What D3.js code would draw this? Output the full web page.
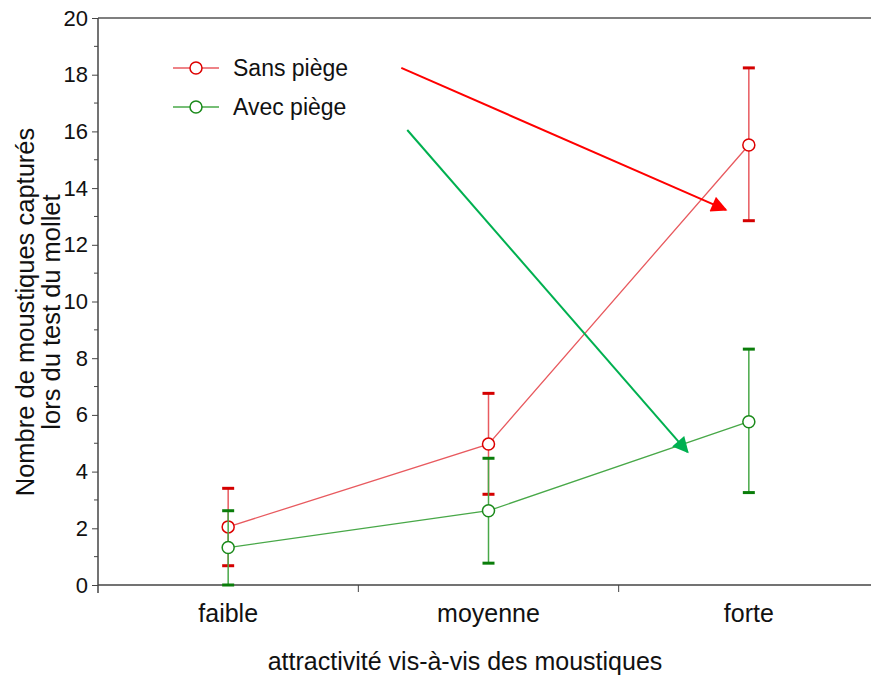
<!DOCTYPE html>
<html>
<head>
<meta charset="utf-8">
<script src="https://cdn.jsdelivr.net/npm/d3@7"></script>
<style>
  body { margin: 0; background: #fff; }
  svg { display: block; font-family: "Liberation Sans", Arial, sans-serif; }
</style>
</head>
<body>
<svg width="871" height="675"></svg>
<script>
// data
const categories = ['faible', 'moyenne', 'forte'];
const sansMean = [2.05, 4.97, 15.52];
const sansLow  = [0.68, 3.2, 12.85];
const sansHigh = [3.41, 6.76, 18.24];
const avecMean = [1.32, 2.62, 5.76];
const avecLow  = [0.0, 0.77, 3.26];
const avecHigh = [2.62, 4.47, 8.32];
const yTicks = [0, 2, 4, 6, 8, 10, 12, 14, 16, 18, 20];
const legendLabels = ['Sans piège', 'Avec piège'];

// arrows in data units (category index, value)
const redArrow = [[0.665, 18.24], [1.912, 13.23]];
const greenArrow = [[0.688, 16.05], [1.765, 4.69]];

const svg = d3.select('svg');
const plotLeft = 98, plotRight = 879, plotTop = 18, plotBottom = 585;

const x = d3.scaleBand().domain(categories).range([plotLeft, plotRight]);
const xi = d3.scaleLinear().domain([0, 1]).range([x('faible') + x.bandwidth() / 2, x('moyenne') + x.bandwidth() / 2]);
const y = d3.scaleLinear().domain([0, 20]).range([plotBottom, plotTop]);

const series = [
  { mean: sansMean, low: sansLow, high: sansHigh, line: '#e85a5f', cap: '#d40000', mark: '#dd0000' },
  { mean: avecMean, low: avecLow, high: avecHigh, line: '#48a848', cap: '#0a7d0a', mark: '#1a8a1a' }
];

//  Axes
svg.append('line')
  .attr('x1', plotLeft).attr('x2', 871).attr('y1', plotTop).attr('y2', plotTop)
  .attr('stroke', '#555').attr('stroke-width', 1.5);

const yAxis = svg.append('g')
  .attr('transform', `translate(${plotLeft},0)`)
  .call(d3.axisLeft(y).tickValues(yTicks).tickSize(6).tickFormat(d3.format('d')));
yAxis.select('.domain').remove();
yAxis.selectAll('line').attr('stroke', '#444');
yAxis.selectAll('text').attr('font-size', 22).attr('fill', '#111').attr('x', -10);

// minor ticks
svg.append('g').selectAll('line')
  .data(d3.range(1, 20, 2))
  .join('line')
  .attr('x1', plotLeft - 4).attr('x2', plotLeft)
  .attr('y1', d => y(d)).attr('y2', d => y(d))
  .attr('stroke', '#444');

svg.append('line')
  .attr('x1', plotLeft).attr('x2', plotLeft).attr('y1', plotTop).attr('y2', plotBottom + 8)
  .attr('stroke', '#444').attr('stroke-width', 1.5);

svg.append('line')
  .attr('x1', plotLeft).attr('x2', 871).attr('y1', plotBottom).attr('y2', plotBottom)
  .attr('stroke', '#444').attr('stroke-width', 1.5);

// category boundary ticks
svg.append('g').selectAll('line')
  .data(categories.slice(1))
  .join('line')
  .attr('x1', d => x(d)).attr('x2', d => x(d))
  .attr('y1', plotBottom).attr('y2', plotBottom + 7)
  .attr('stroke', '#444');

svg.append('g').selectAll('text')
  .data(categories)
  .join('text')
  .attr('x', d => x(d) + x.bandwidth() / 2)
  .attr('y', plotBottom + 37)
  .attr('text-anchor', 'middle')
  .attr('font-size', 25)
  .attr('fill', '#111')
  .text(d => d);

svg.append('text')
  .attr('x', 465).attr('y', 670)
  .attr('text-anchor', 'middle')
  .attr('font-size', 25)
  .attr('fill', '#111')
  .text('attractivité vis-à-vis des moustiques');

const yTitle = svg.append('text')
  .attr('transform', 'translate(0,312) rotate(-90)')
  .attr('text-anchor', 'middle')
  .attr('font-size', 25.5)
  .attr('fill', '#111');
yTitle.append('tspan').attr('x', 0).attr('y', 34).text('Nombre de moustiques capturés');
yTitle.append('tspan').attr('x', 0).attr('y', 60).text('lors du test du mollet');

//  Series
const cx = i => x(categories[i]) + x.bandwidth() / 2;
const lineGen = d3.line().x((d, i) => cx(i)).y(d => y(d));

series.forEach(s => {
  const g = svg.append('g');

  g.append('g').selectAll('line')
    .data(s.mean)
    .join('line')
    .attr('x1', (d, i) => cx(i)).attr('x2', (d, i) => cx(i))
    .attr('y1', (d, i) => y(s.low[i])).attr('y2', (d, i) => y(s.high[i]))
    .attr('stroke', s.line).attr('stroke-width', 1.5);

  [s.low, s.high].forEach(arr => {
    g.append('g').selectAll('line')
      .data(arr)
      .join('line')
      .attr('x1', (d, i) => cx(i) - 6).attr('x2', (d, i) => cx(i) + 6)
      .attr('y1', d => y(d)).attr('y2', d => y(d))
      .attr('stroke', s.cap).attr('stroke-width', 3);
  });

  g.append('path')
    .attr('d', lineGen(s.mean))
    .attr('fill', 'none')
    .attr('stroke', s.line).attr('stroke-width', 1.3);

  g.append('g').selectAll('circle')
    .data(s.mean)
    .join('circle')
    .attr('cx', (d, i) => cx(i)).attr('cy', d => y(d))
    .attr('r', 6)
    .attr('fill', '#fff')
    .attr('stroke', s.mark).attr('stroke-width', 1.5);
});

//  Legend
const legend = svg.append('g');
legendLabels.forEach((label, i) => {
  const s = series[i];
  const ly = 68 + i * 39;
  legend.append('line')
    .attr('x1', 173).attr('x2', 219).attr('y1', ly).attr('y2', ly)
    .attr('stroke', s.line).attr('stroke-width', 1.3);
  legend.append('circle')
    .attr('cx', 196).attr('cy', ly).attr('r', 6)
    .attr('fill', '#fff').attr('stroke', s.mark).attr('stroke-width', 1.5);
  legend.append('text')
    .attr('x', 233).attr('y', ly + 8)
    .attr('font-size', 23).attr('fill', '#111')
    .text(label);
});

//  Arrows
const defs = svg.append('defs');
[['red', '#ff0000'], ['green', '#00b050']].forEach(([id, col]) => {
  defs.append('marker')
    .attr('id', 'arrow-' + id)
    .attr('viewBox', '0 0 10 10')
    .attr('refX', 9).attr('refY', 5)
    .attr('markerWidth', 9).attr('markerHeight', 8)
    .attr('markerUnits', 'strokeWidth')
    .attr('orient', 'auto')
    .append('path')
    .attr('d', 'M0,0 L10,5 L0,10 Z')
    .attr('fill', col);
});

[[redArrow, 'red', '#ff0000'], [greenArrow, 'green', '#00b050']].forEach(([pts, id, col]) => {
  svg.append('line')
    .attr('x1', xi(pts[0][0])).attr('y1', y(pts[0][1]))
    .attr('x2', xi(pts[1][0])).attr('y2', y(pts[1][1]))
    .attr('stroke', col).attr('stroke-width', 2)
    .attr('marker-end', `url(#arrow-${id})`);
});
</script>
</body>
</html>
